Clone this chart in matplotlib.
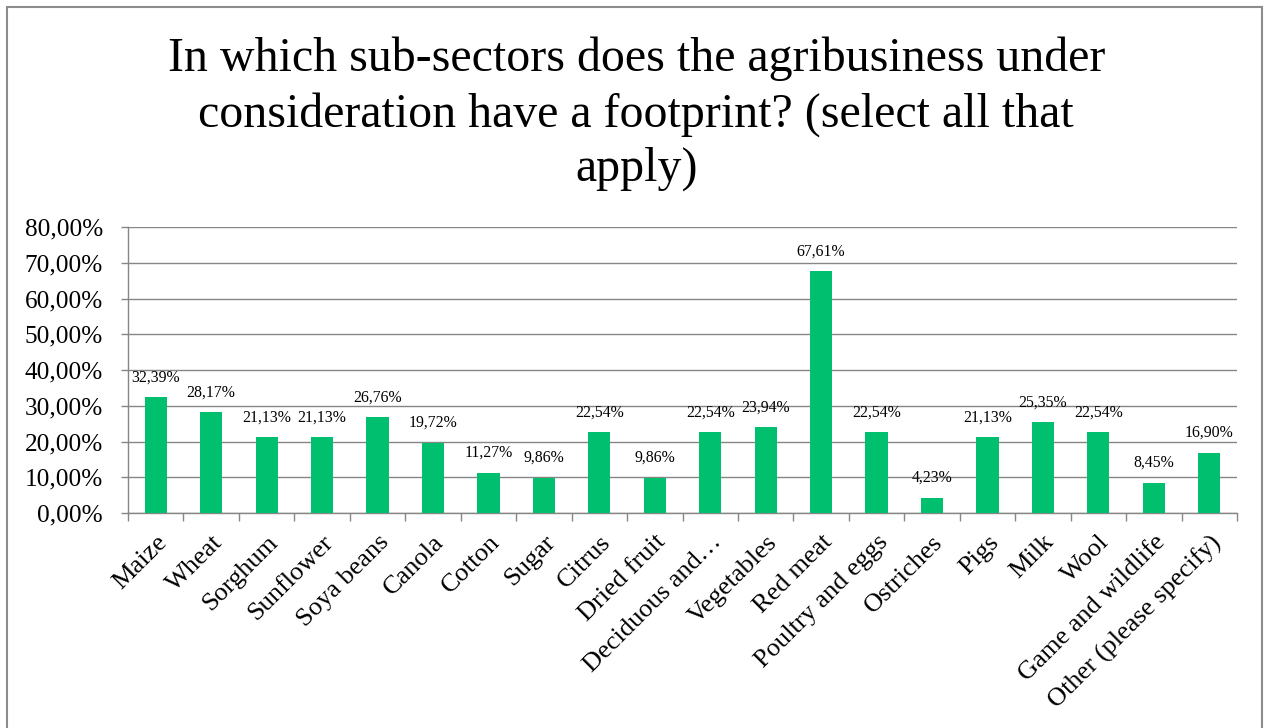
import matplotlib
matplotlib.use("Agg")
import matplotlib.pyplot as plt
from matplotlib.patches import Rectangle

plt.rcParams['font.family'] = ['Liberation Serif', 'DejaVu Serif']

categories = ["Maize", "Wheat", "Sorghum", "Sunflower", "Soya beans", "Canola",
              "Cotton", "Sugar", "Citrus", "Dried fruit", "Deciduous and\u2026",
              "Vegetables", "Red meat", "Poultry and eggs", "Ostriches", "Pigs",
              "Milk", "Wool", "Game and wildlife", "Other (please specify)"]
values = [32.39, 28.17, 21.13, 21.13, 26.76, 19.72, 11.27, 9.86, 22.54, 9.86,
          22.54, 23.94, 67.61, 22.54, 4.23, 21.13, 25.35, 22.54, 8.45, 16.90]
y_ticks = [0, 10, 20, 30, 40, 50, 60, 70, 80]

title = "In which sub-sectors does the agribusiness under\nconsideration have a footprint? (select all that\napply)"

W, H = 1265, 728
fig = plt.figure(figsize=(W / 100, H / 100), dpi=100)
fig.patch.set_facecolor('white')

# outer frame
fig.patches.append(Rectangle((7 / W, -0.02), (1262 - 7) / W, 1 - 7 / H + 0.02,
                             transform=fig.transFigure, fill=False,
                             edgecolor='#8c8c8c', linewidth=1.5))

fig.text(0.503, 1 - 114 / H, title, ha='center', va='center',
         fontsize=34.5, linespacing=1.3, color='black')

ax = fig.add_axes([128 / W, 1 - 513 / H, (1237 - 128) / W, (513 - 227) / H])
green = '#00BF6F'
grid = '#868686'

x = list(range(len(categories)))
bars = ax.bar(x, values, width=0.4, color=green, zorder=3)
for xi, v in zip(x, values):
    ax.annotate(f"{v:.2f}%".replace('.', ','), (xi, v), xytext=(0, 8.5),
                textcoords='offset points', ha='center', va='bottom',
                fontsize=11.4, color='black')

ax.set_xlim(-0.5, len(categories) - 0.5)
ax.set_ylim(0, 80)
ax.set_yticks(y_ticks)
ax.set_yticklabels([f"{t:.2f}%".replace('.', ',') for t in y_ticks], fontsize=18.2)
ax.yaxis.grid(True, color=grid, linewidth=1, zorder=0)

ax.set_xticks([i - 0.5 for i in range(len(categories) + 1)], minor=False)
ax.set_xticklabels([])
ax.set_xticks(x, minor=True)
ax.set_xticklabels(categories, minor=True, rotation=45, ha='right',
                   rotation_mode='anchor', fontsize=19)
ax.tick_params(axis='x', which='major', length=5.8, color=grid, width=1)
ax.tick_params(axis='x', which='minor', length=0, pad=13)
ax.tick_params(axis='y', length=5, color=grid, width=1, pad=13)

for s in ['top', 'right']:
    ax.spines[s].set_visible(False)
for s in ['left', 'bottom']:
    ax.spines[s].set_color(grid)
    ax.spines[s].set_linewidth(1)

fig.savefig('out.png', dpi=100, facecolor='white')
